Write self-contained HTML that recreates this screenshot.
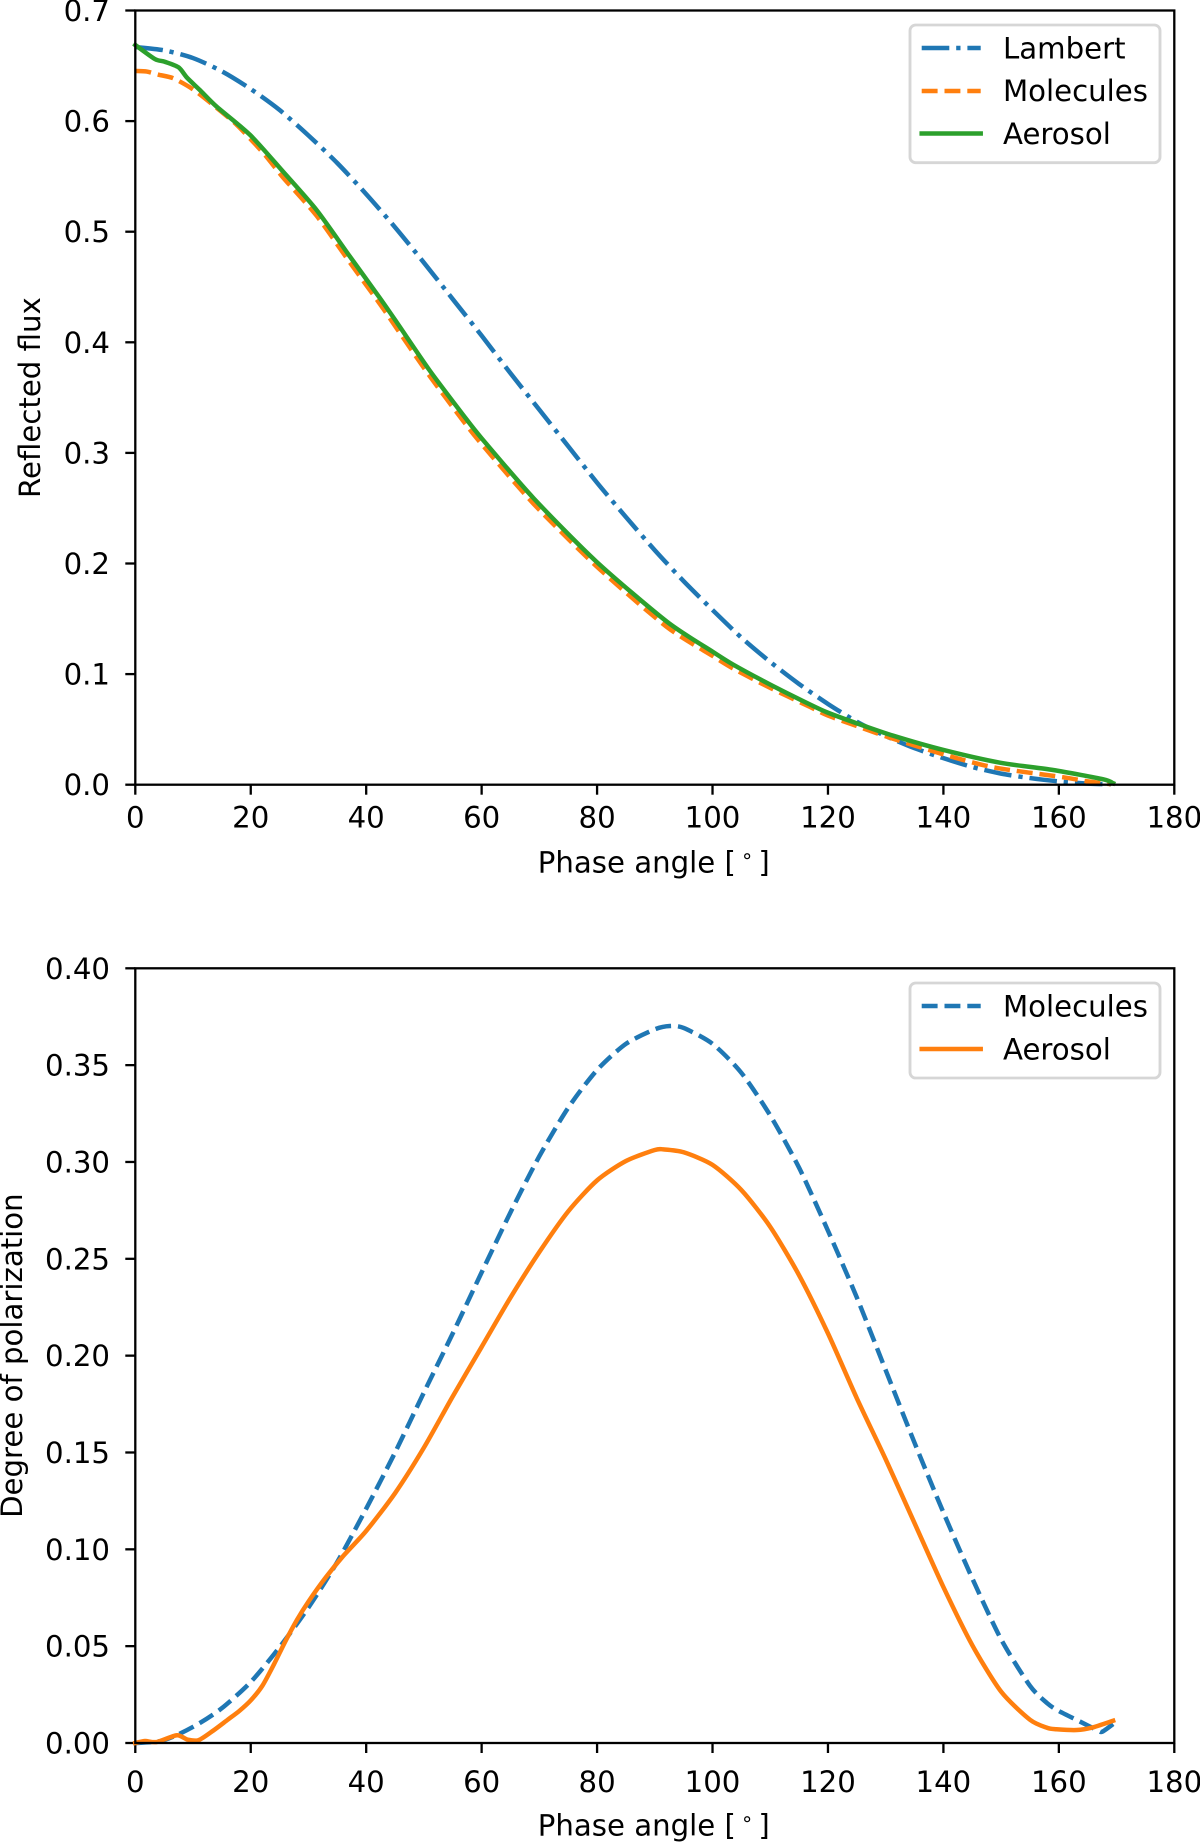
<!DOCTYPE html>
<html lang="en">
<head>
<meta charset="utf-8">
<title>Reflected flux and degree of polarization versus phase angle</title>
<style>
html,body{margin:0;padding:0;background:#fff;width:1200px;height:1842px;overflow:hidden}
svg{display:block}
text{font-family:"DejaVu Sans","Liberation Sans",sans-serif;font-size:29.2px;fill:#000}
</style>
</head>
<body>
<svg id="figure" xmlns="http://www.w3.org/2000/svg" width="1200" height="1842" viewBox="0 0 1200 1842">
  <rect x="0" y="0" width="1200" height="1842" fill="#fff"/>
  <g id="flux-panel"></g>
  <g id="pol-panel"></g>

  <g>
    <rect x="910" y="25" width="250" height="137.7" rx="5.7" fill="#fff" fill-opacity="0.8" stroke="#ccc" stroke-opacity="0.8" stroke-width="2.87"/>
    <g>
      <line x1="921.7" y1="48" x2="980.7" y2="48" stroke="#1f77b4" stroke-width="4.5" stroke-dasharray="27.6 6.9 4.3 6.9"/>
      <text x="1003" y="58.3">Lambert</text>
    </g>
    <g>
      <line x1="921.7" y1="91" x2="980.7" y2="91" stroke="#ff7f0e" stroke-width="4.5" stroke-dasharray="15.9 6.9"/>
      <text x="1003" y="101">Molecules</text>
    </g>
    <g>
      <line x1="921.7" y1="133.5" x2="980.7" y2="133.5" stroke="#2ca02c" stroke-width="4.5" stroke-linecap="square"/>
      <text x="1003" y="143.8">Aerosol</text>
    </g>
  </g>

  <g>
    <rect x="910" y="983" width="250" height="95" rx="5.7" fill="#fff" fill-opacity="0.8" stroke="#ccc" stroke-opacity="0.8" stroke-width="2.87"/>
    <g>
      <line x1="921.7" y1="1006" x2="980.7" y2="1006" stroke="#1f77b4" stroke-width="4.5" stroke-dasharray="15.9 6.9"/>
      <text x="1003" y="1016.3">Molecules</text>
    </g>
    <g>
      <line x1="921.7" y1="1049" x2="980.7" y2="1049" stroke="#ff7f0e" stroke-width="4.5" stroke-linecap="square"/>
      <text x="1003" y="1059.3">Aerosol</text>
    </g>
  </g>
</svg>

<script>
// Shared x axis
const phaseTicks = [0, 20, 40, 60, 80, 100, 120, 140, 160, 180];
const phaseTickLabels = ["0", "20", "40", "60", "80", "100", "120", "140", "160", "180"];

// Top chart: reflected flux
const fluxTicks = [0, 0.1, 0.2, 0.3, 0.4, 0.5, 0.6, 0.7];
const fluxTickLabels = ["0.0", "0.1", "0.2", "0.3", "0.4", "0.5", "0.6", "0.7"];

const lambertPhase = [0, 5, 10, 15, 20, 25, 30, 35, 40, 45, 50, 55, 60, 65, 70, 75, 80, 85, 90, 95, 100, 105, 110, 115, 120, 125, 130, 135, 140, 145, 150, 155, 160, 165, 169];
const lambertFlux = [0.667, 0.664, 0.657, 0.645, 0.629, 0.610, 0.587, 0.562, 0.534, 0.504, 0.472, 0.439, 0.406, 0.372, 0.339, 0.306, 0.273, 0.242, 0.212, 0.184, 0.158, 0.133, 0.111, 0.091, 0.073, 0.057, 0.044, 0.033, 0.024, 0.016, 0.010, 0.006, 0.003, 0.001, 0.0004];

const moleculesFluxPhase = [0, 2, 4, 6.6, 10, 13.5, 17.6, 22.2, 25.6, 31.4, 37.2, 42.4, 45.3, 51, 56.8, 60, 69, 80, 92, 100, 103.6, 110, 117, 120, 125, 131, 141.4, 149, 160.8, 164.8, 169];
const moleculesFlux = [0.6453, 0.6448, 0.642, 0.6387, 0.6287, 0.6145, 0.5965, 0.571, 0.549, 0.5145, 0.472, 0.4345, 0.4125, 0.3695, 0.329, 0.308, 0.254, 0.197, 0.143, 0.1165, 0.105, 0.0875, 0.07, 0.0625, 0.053, 0.042, 0.0253, 0.0154, 0.0067, 0.0031, 0.0005];

const aerosolFluxPhase = [0, 3.4, 5.1, 7.5, 9, 11.2, 14.1, 19.9, 25.6, 31.4, 37.2, 42.4, 45.3, 51, 56.8, 60, 69, 79.9, 92.1, 100, 103.6, 110, 116.9, 119.8, 125, 131.3, 140, 149.8, 159, 167.7, 169.4];
const aerosolFlux = [0.6688, 0.6561, 0.6537, 0.6486, 0.639, 0.628, 0.613, 0.5874, 0.5543, 0.5196, 0.4774, 0.4398, 0.418, 0.3745, 0.3343, 0.3132, 0.259, 0.2016, 0.1474, 0.1203, 0.1085, 0.0905, 0.0725, 0.0655, 0.0555, 0.0443, 0.0314, 0.0199, 0.0133, 0.0049, 0.0013];

// Bottom chart: degree of polarization
const polTicks = [0, 0.05, 0.1, 0.15, 0.2, 0.25, 0.3, 0.35, 0.4];
const polTickLabels = ["0.00", "0.05", "0.10", "0.15", "0.20", "0.25", "0.30", "0.35", "0.40"];

const moleculesPolPhase = [0, 4, 7, 11, 15, 20, 25, 30, 35, 40, 45, 50, 55, 60, 65, 70, 75, 80, 85, 90, 92.6, 95, 100, 105, 110, 115, 120, 125, 130, 135, 140, 145, 150, 155, 158, 160, 163.7, 166.6, 167.5, 169.4];
const moleculesPol = [0, 0.0008, 0.0038, 0.01, 0.018, 0.0315, 0.0495, 0.07, 0.0935, 0.121, 0.15, 0.181, 0.2115, 0.243, 0.274, 0.303, 0.328, 0.3475, 0.361, 0.3685, 0.3702, 0.3692, 0.361, 0.346, 0.324, 0.297, 0.2645, 0.23, 0.1925, 0.155, 0.119, 0.085, 0.0535, 0.0295, 0.0205, 0.0165, 0.011, 0.0067, 0.0058, 0.0098];

const aerosolPolPhase = [0, 1.7, 3.7, 7.2, 9.1, 11, 13.5, 16, 18, 20, 22, 24, 26, 28, 30, 33, 36, 40, 45, 50, 55, 60, 65, 70, 75, 80, 85, 90, 91.5, 95, 100, 105, 110, 115, 120, 125, 130, 135, 140, 145, 150, 155, 158, 159.6, 163.1, 165.7, 169.4];
const aerosolPol = [0, 0.001, 0.0005, 0.004, 0.0017, 0.0015, 0.0064, 0.012, 0.0165, 0.022, 0.0295, 0.0405, 0.0525, 0.0635, 0.073, 0.0855, 0.0965, 0.1095, 0.129, 0.1525, 0.179, 0.2045, 0.23, 0.2535, 0.2745, 0.2905, 0.3005, 0.3062, 0.3065, 0.305, 0.2985, 0.2855, 0.2665, 0.2415, 0.2115, 0.178, 0.1465, 0.1135, 0.0805, 0.0505, 0.0265, 0.012, 0.0078, 0.0071, 0.0067, 0.0079, 0.0115];

const NS = 'http://www.w3.org/2000/svg';
const AX_LEFT = 135.3, AX_RIGHT = 1174.3, X_MAX = 180;
const SPINE = 2.3, TICK = 10;
const SOLID = '', DASHED = '15.9 6.9', DASHDOT = '27.6 6.9 4.3 6.9';
const BLUE = '#1f77b4', ORANGE = '#ff7f0e', GREEN = '#2ca02c';

function xScale(v) {
  return AX_LEFT + (v / X_MAX) * (AX_RIGHT - AX_LEFT);
}
function makeYScale(top, bottom, yMax) {
  return function (v) { return bottom - (v / yMax) * (bottom - top); };
}
function svgEl(tag, attrs, parent) {
  const el = document.createElementNS(NS, tag);
  for (const k in attrs) el.setAttribute(k, attrs[k]);
  parent.appendChild(el);
  return el;
}
function curvePath(xs, ys, yScale) {
  const pts = xs.map(function (x, i) { return [xScale(x), yScale(ys[i])]; });
  let d = 'M' + pts[0][0].toFixed(2) + ' ' + pts[0][1].toFixed(2);
  for (let i = 0; i < pts.length - 1; i++) {
    const p0 = pts[Math.max(i - 1, 0)], p1 = pts[i], p2 = pts[i + 1], p3 = pts[Math.min(i + 2, pts.length - 1)];
    const c1x = p1[0] + (p2[0] - p0[0]) / 8, c1y = p1[1] + (p2[1] - p0[1]) / 8;
    const c2x = p2[0] - (p3[0] - p1[0]) / 8, c2y = p2[1] - (p3[1] - p1[1]) / 8;
    d += 'C' + c1x.toFixed(2) + ' ' + c1y.toFixed(2) + ' ' + c2x.toFixed(2) + ' ' + c2y.toFixed(2) + ' ' + p2[0].toFixed(2) + ' ' + p2[1].toFixed(2);
  }
  return d;
}
function drawSeries(parent, name, xs, ys, yScale, color, dash) {
  const path = svgEl('path', {
    d: curvePath(xs, ys, yScale), fill: 'none', stroke: color, 'stroke-width': 4.5,
    'stroke-linejoin': 'round', 'stroke-linecap': dash ? 'butt' : 'square'
  }, parent);
  if (dash) path.setAttribute('stroke-dasharray', dash);
  
  
}
function drawAxes(parent, prefix, top, bottom, yScale, yTicks, yLabels, yTitle, yTitleX, xLabelOffset, xTitleOffset) {
  phaseTicks.forEach(function (t, i) {
    const x = xScale(t);
    const tick = svgEl('line', { x1: x, x2: x, y1: bottom, y2: bottom + TICK, stroke: '#000', 'stroke-width': SPINE }, parent);
    
    
    const label = svgEl('text', { x: x, y: bottom + xLabelOffset, 'text-anchor': 'middle' }, parent);
    label.textContent = phaseTickLabels[i];
    
    
  });
  yTicks.forEach(function (t, i) {
    const y = yScale(t);
    const tick = svgEl('line', { x1: AX_LEFT - TICK, x2: AX_LEFT, y1: y, y2: y, stroke: '#000', 'stroke-width': SPINE }, parent);
    
    
    const label = svgEl('text', { x: 110, y: y + 10.5, 'text-anchor': 'end' }, parent);
    label.textContent = yLabels[i];
    
    
  });
  const cx = (AX_LEFT + AX_RIGHT) / 2;
  const xTitle = svgEl('text', { x: cx - 1, y: bottom + xTitleOffset, 'text-anchor': 'middle' }, parent);
  
  
  const t1 = svgEl('tspan', {}, xTitle);
  t1.textContent = 'Phase angle [';
  const t2 = svgEl('tspan', { dx: 5, dy: -10, 'font-size': 20 }, xTitle);
  t2.textContent = '\u2218';
  const t3 = svgEl('tspan', { dx: 5, dy: 10 }, xTitle);
  t3.textContent = ']';
  const cy = (top + bottom) / 2;
  const title = svgEl('text', { x: yTitleX, y: cy, 'text-anchor': 'middle', transform: 'rotate(-90 ' + yTitleX + ' ' + cy + ')' }, parent);
  title.textContent = yTitle;
  
  
}
function drawFrame(parent, prefix, top, bottom) {
  const frame = svgEl('rect', { x: AX_LEFT, y: top, width: AX_RIGHT - AX_LEFT, height: bottom - top, fill: 'none', stroke: '#000', 'stroke-width': SPINE }, parent);
  
  
}

// Reflected flux panel
const fluxPanel = document.getElementById('flux-panel');
const fluxTop = 10.5, fluxBottom = 784.7;
const fluxY = makeYScale(fluxTop, fluxBottom, 0.7);
drawAxes(fluxPanel, 'flux', fluxTop, fluxBottom, fluxY, fluxTicks, fluxTickLabels, 'Reflected flux', 40, 43, 88);
drawSeries(fluxPanel, 'line-lambert', lambertPhase, lambertFlux, fluxY, BLUE, DASHDOT);
drawSeries(fluxPanel, 'line-molecules', moleculesFluxPhase, moleculesFlux, fluxY, ORANGE, DASHED);
drawSeries(fluxPanel, 'line-aerosol', aerosolFluxPhase, aerosolFlux, fluxY, GREEN, SOLID);
drawFrame(fluxPanel, 'flux', fluxTop, fluxBottom);

// Degree of polarization panel
const polPanel = document.getElementById('pol-panel');
const polTop = 968.3, polBottom = 1743;
const polY = makeYScale(polTop, polBottom, 0.4);
drawAxes(polPanel, 'polarization', polTop, polBottom, polY, polTicks, polTickLabels, 'Degree of polarization', 22, 49, 92.5);
drawSeries(polPanel, 'line-molecules-polarization', moleculesPolPhase, moleculesPol, polY, BLUE, DASHED);
drawSeries(polPanel, 'line-aerosol-polarization', aerosolPolPhase, aerosolPol, polY, ORANGE, SOLID);
drawFrame(polPanel, 'polarization', polTop, polBottom);
</script>
</body>
</html>
